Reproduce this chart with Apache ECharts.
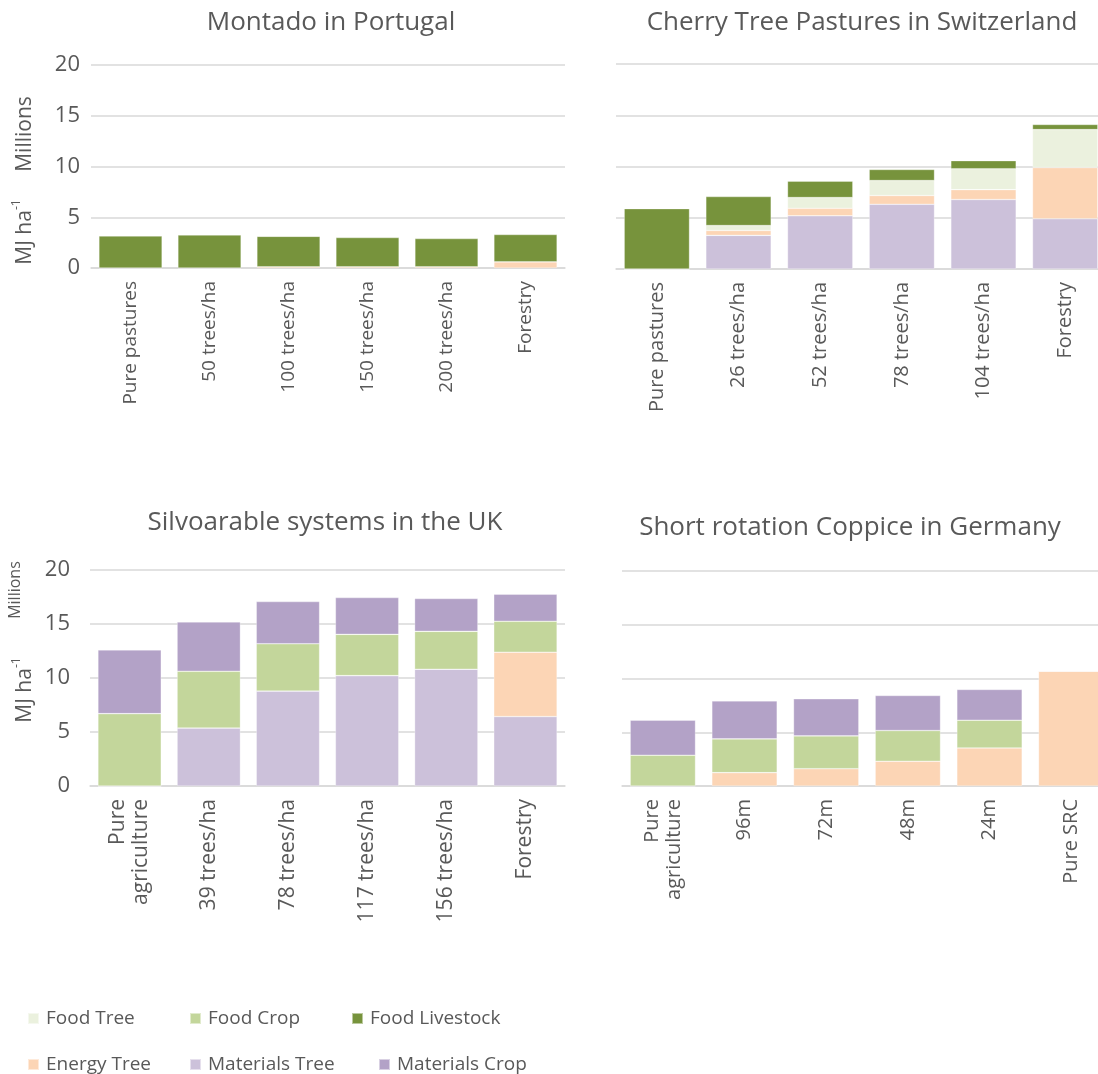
<!DOCTYPE html>
<html>
<head>
<meta charset="utf-8">
<title>Energy yield of agroforestry systems</title>
<script src="https://cdn.jsdelivr.net/npm/echarts@6/dist/echarts.min.js"></script>
<style>
  html, body { margin: 0; padding: 0; background: #fff; }
  #main { width: 1098px; height: 1074px; }
</style>
</head>
<body>
<div id="main"></div>
<script>
// values in millions of MJ/ha
var portugalCats = ['Pure pastures', '50 trees/ha', '100 trees/ha', '150 trees/ha', '200 trees/ha', 'Forestry'];
var portugalLivestock = [3.15, 3.25, 3.0, 2.88, 2.78, 2.7];
var portugalEnergy = [0, 0, 0.12, 0.12, 0.12, 0.6];

var swissCats = ['Pure pastures', '26 trees/ha', '52 trees/ha', '78 trees/ha', '104 trees/ha', 'Forestry'];
var swissMatTree = [0, 3.28, 5.19, 6.31, 6.78, 4.9];
var swissEnergy = [0, 0.48, 0.73, 0.86, 0.96, 5.0];
var swissFoodTree = [0, 0.48, 1.05, 1.46, 2.04, 3.7];
var swissLivestock = [5.89, 2.83, 1.6, 1.08, 0.79, 0.5];

var ukCats = ['Pure\nagriculture', '39 trees/ha', '78 trees/ha', '117 trees/ha', '156 trees/ha', 'Forestry'];
var ukMatTree = [0, 5.37, 8.79, 10.22, 10.81, 6.43];
var ukEnergy = [0, 0, 0, 0, 0, 5.96];
var ukFoodCrop = [6.7, 5.25, 4.38, 3.82, 3.51, 2.86];
var ukMatCrop = [5.9, 4.57, 3.91, 3.41, 3.04, 2.51];

var germanyCats = ['Pure\nagriculture', '96m', '72m', '48m', '24m', 'Pure SRC'];
var germanyEnergy = [0, 1.24, 1.61, 2.3, 3.54, 10.68];
var germanyFoodCrop = [2.86, 3.14, 3.05, 2.86, 2.58, 0];
var germanyMatCrop = [3.26, 3.54, 3.45, 3.26, 2.86, 0];

var yTicks = [0, 5, 10, 15, 20];

var colors = {
  'Food Tree': '#EBF1DE',
  'Food Crop': '#C3D69B',
  'Food Livestock': '#77933C',
  'Energy Tree': '#FCD5B5',
  'Materials Tree': '#CCC1DA',
  'Materials Crop': '#B3A2C7'
};

var FONT = "'Open Sans', 'Noto Sans', sans-serif";
var GREY = '#595959';

function bar(idx, name, data) {
  return {
    name: name,
    type: 'bar',
    stack: 's' + idx,
    xAxisIndex: idx,
    yAxisIndex: idx,
    barCategoryGap: '20%',
    itemStyle: { color: colors[name], borderColor: 'rgba(255,255,255,0.5)', borderWidth: 0.6 },
    data: data
  };
}

function xAxis(idx, cats, size) {
  return {
    type: 'category',
    gridIndex: idx,
    data: cats,
    axisTick: { show: false },
    axisLine: { lineStyle: { color: '#D9D9D9', width: 1.5 } },
    axisLabel: { rotate: 90, color: GREY, fontSize: size, fontFamily: FONT, margin: 13, interval: 0, align: 'right', lineHeight: size + 2 }
  };
}

function yAxis(idx, showLabels, margin) {
  return {
    type: 'value',
    gridIndex: idx,
    min: yTicks[0],
    max: yTicks[yTicks.length - 1],
    interval: yTicks[1] - yTicks[0],
    axisLine: { show: false },
    axisTick: { show: false },
    splitLine: { lineStyle: { color: '#D9D9D9', width: 1.5 } },
    axisLabel: { show: showLabels, color: GREY, fontSize: 22, fontFamily: FONT, margin: margin }
  };
}

function legendItem(name, x, y) {
  return {
    data: [name],
    left: x,
    top: y,
    icon: 'rect',
    itemWidth: 11,
    itemHeight: 11,
    itemGap: 0,
    selectedMode: false,
    textStyle: { color: GREY, fontSize: 19, fontFamily: FONT, padding: [0, 0, 0, 2] }
  };
}

function axisText(x, y, parts) {
  return {
    type: 'text',
    x: x,
    y: y,
    rotation: Math.PI / 2,
    style: {
      text: parts.text,
      fill: GREY,
      font: parts.size + 'px ' + FONT,
      align: 'center',
      verticalAlign: 'middle',
      rich: {
        sup: { fontSize: 12, fill: GREY, fontFamily: FONT, verticalAlign: 'top', lineHeight: 28, padding: [0, 0, 12, 0] },
        base: { fontSize: parts.size, fill: GREY, fontFamily: FONT, lineHeight: 28 }
      }
    }
  };
}

var titleStyle = { color: GREY, fontSize: 26, fontWeight: 'normal', fontFamily: FONT };

var option = {
  backgroundColor: '#fff',
  animation: false,
  title: [
    { text: 'Montado in Portugal', left: 326, top: 5, textAlign: 'center', textStyle: titleStyle },
    { text: 'Cherry Tree Pastures in Switzerland', left: 857, top: 5, textAlign: 'center', textStyle: titleStyle },
    { text: 'Silvoarable systems in the UK', left: 320, top: 505, textAlign: 'center', textStyle: titleStyle },
    { text: 'Short rotation Coppice in Germany', left: 845, top: 510, textAlign: 'center', textStyle: titleStyle }
  ],
  grid: [
    { left: 91, top: 65, width: 474, height: 203, outerBoundsMode: 'none' },
    { left: 616, top: 64, width: 490, height: 205, outerBoundsMode: 'none' },
    { left: 90, top: 570, width: 475, height: 216, outerBoundsMode: 'none' },
    { left: 622, top: 571, width: 490, height: 215, outerBoundsMode: 'none' }
  ],
  xAxis: [xAxis(0, portugalCats, 19), xAxis(1, swissCats, 20), xAxis(2, ukCats, 21), xAxis(3, germanyCats, 20)],
  yAxis: [yAxis(0, true, 11), yAxis(1, false, 0), yAxis(2, true, 20), yAxis(3, false, 0)],
  legend: [
    legendItem('Food Tree', 22, 1004),
    legendItem('Food Crop', 184, 1004),
    legendItem('Food Livestock', 346, 1004),
    legendItem('Energy Tree', 22, 1050),
    legendItem('Materials Tree', 184, 1050),
    legendItem('Materials Crop', 373, 1050)
  ],
  graphic: [
    axisText(25, 134, { text: 'Millions', size: 21 }),
    axisText(25, 232, { text: '{base|MJ ha}{sup|-1}', size: 21 }),
    axisText(15, 590, { text: 'Millions', size: 16 }),
    axisText(25, 690, { text: '{base|MJ ha}{sup|-1}', size: 21 })
  ],
  series: [
    bar(0, 'Energy Tree', portugalEnergy),
    bar(0, 'Food Livestock', portugalLivestock),

    bar(1, 'Materials Tree', swissMatTree),
    bar(1, 'Energy Tree', swissEnergy),
    bar(1, 'Food Tree', swissFoodTree),
    bar(1, 'Food Livestock', swissLivestock),

    bar(2, 'Materials Tree', ukMatTree),
    bar(2, 'Energy Tree', ukEnergy),
    bar(2, 'Food Crop', ukFoodCrop),
    bar(2, 'Materials Crop', ukMatCrop),

    bar(3, 'Energy Tree', germanyEnergy),
    bar(3, 'Food Crop', germanyFoodCrop),
    bar(3, 'Materials Crop', germanyMatCrop)
  ]
};

var chart = echarts.init(document.getElementById('main'));
chart.setOption(option);
</script>
</body>
</html>
